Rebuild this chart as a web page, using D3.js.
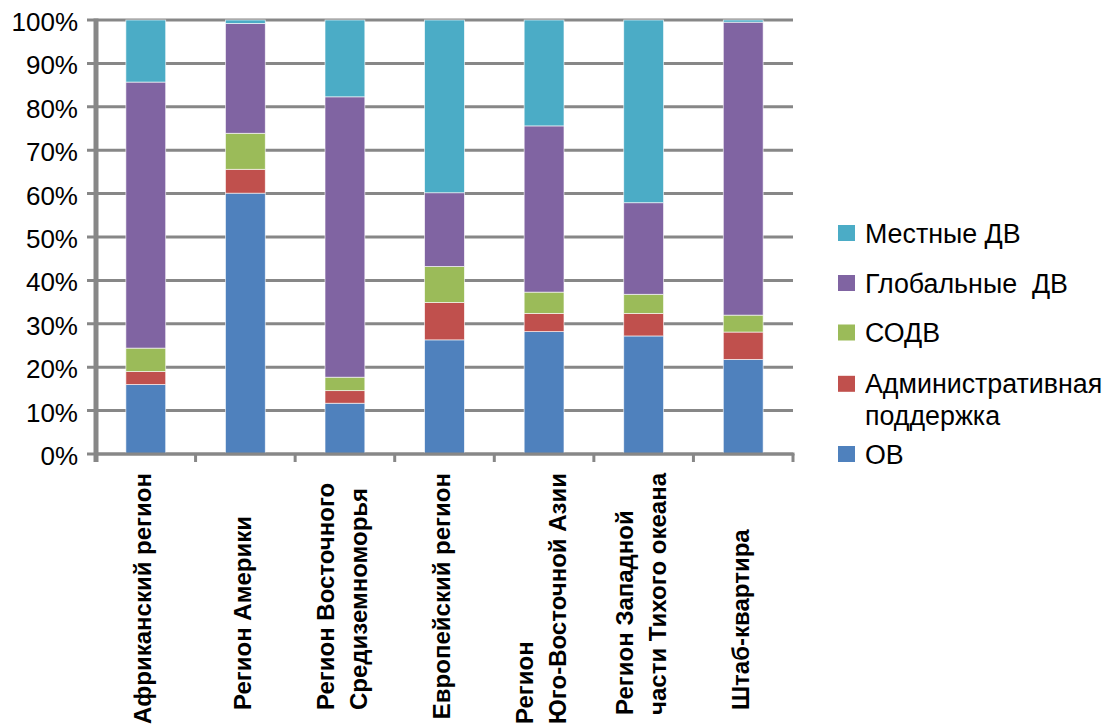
<!DOCTYPE html>
<html>
<head>
<meta charset="utf-8">
<script src="https://cdn.jsdelivr.net/npm/d3@7"></script>
<style>
  html, body { margin: 0; padding: 0; background: #fff; }
  svg { display: block; }
  text { font-family: "Liberation Sans", Arial, sans-serif; fill: #000; white-space: pre; }
</style>
</head>
<body>
<svg id="chart" width="1112" height="724"></svg>
<script>
// Regions (x axis); "\n" marks a line break in the rotated label
const categories = [
  "Африканский регион",
  "Регион Америки",
  "Регион Восточного\nСредиземноморья",
  "Европейский регион",
  "Регион\nЮго-Восточной Азии",
  "Регион Западной\nчасти Тихого океана",
  "Штаб-квартира"
];

// Share of each funding type per region, % (bottom to top of each bar)
const ov        = [16.0, 60.1, 11.7, 26.3, 28.2, 27.2, 21.8];
const adminSupp = [ 3.0,  5.5,  2.9,  8.6,  4.2,  5.2,  6.3];
const sodv      = [ 5.4,  8.3,  3.1,  8.3,  4.9,  4.4,  3.9];
const globalDv  = [61.3, 25.3, 64.6, 17.0, 38.3, 21.1, 67.5];
const localDv   = [14.3,  0.8, 17.7, 39.8, 24.4, 42.1,  0.5];

const seriesNames  = ["ОВ", "Административная\nподдержка", "СОДВ", "Глобальные  ДВ", "Местные ДВ"];
const seriesColors = ["#4F81BD", "#C0504D", "#9BBB59", "#8064A2", "#4BACC6"];
const yTicks = [0, 0.1, 0.2, 0.3, 0.4, 0.5, 0.6, 0.7, 0.8, 0.9, 1.0];

const seriesValues = [ov, adminSupp, sodv, globalDv, localDv];
const keys = seriesNames.map((d, i) => "s" + i);
const rows = categories.map((c, j) => {
  const r = { cat: c };
  keys.forEach((k, i) => { r[k] = seriesValues[i][j]; });
  return r;
});

const svg = d3.select("#chart");
const plotLeft = 96, plotRight = 793, plotTop = 20, plotBottom = 454;

const x = d3.scaleBand().domain(categories).range([plotLeft, plotRight])
  .paddingInner(0.6).paddingOuter(0.3);
const y = d3.scaleLinear().domain([0, 1]).range([plotBottom, plotTop]);

const stacked = d3.stack().keys(keys).offset(d3.stackOffsetExpand)(rows);

const grid = "#878787";

// horizontal gridlines with short ticks left of the axis
svg.append("g").selectAll("line").data(yTicks).join("line")
  .attr("x1", plotLeft - 9).attr("x2", plotRight)
  .attr("y1", d => y(d)).attr("y2", d => y(d))
  .attr("stroke", grid).attr("stroke-width", 3);

// stacked bars
svg.append("g").selectAll("g").data(stacked).join("g")
  .attr("fill", (d, i) => seriesColors[i])
  .selectAll("rect").data(d => d).join("rect")
  .attr("x", d => x(d.data.cat))
  .attr("width", x.bandwidth())
  .attr("y", d => y(d[1]))
  .attr("height", d => Math.max(0, y(d[0]) - y(d[1])))
  .attr("stroke", "rgba(255,255,255,0.75)")
  .attr("stroke-width", 0.8);

// y axis line
svg.append("line")
  .attr("x1", plotLeft).attr("x2", plotLeft)
  .attr("y1", plotTop - 1.5).attr("y2", plotBottom + 8)
  .attr("stroke", grid).attr("stroke-width", 5);

// x axis line and category separators
svg.append("line")
  .attr("x1", plotLeft).attr("x2", plotRight + 1.5)
  .attr("y1", plotBottom).attr("y2", plotBottom)
  .attr("stroke", grid).attr("stroke-width", 3);
const step = x.step();
const bounds = d3.range(categories.length + 1).map(i => x(categories[0]) - x.paddingOuter() * step + i * step);
svg.append("g").selectAll("line").data(bounds).join("line")
  .attr("x1", d => d).attr("x2", d => d)
  .attr("y1", plotBottom).attr("y2", plotBottom + 8)
  .attr("stroke", grid).attr("stroke-width", 3);

// y tick labels
svg.append("g").selectAll("text").data(yTicks).join("text")
  .attr("x", 78).attr("y", d => y(d) + 11)
  .attr("text-anchor", "end")
  .style("font-size", "26px")
  .text(d3.format(".0%"));

// rotated category labels, lines start-aligned and stacked left to right
const labelG = svg.append("g");
const lineGap = 33;
categories.forEach(cat => {
  const lines = cat.split("\n");
  const cx = x(cat) + x.bandwidth() / 2 - 3;
  const g = labelG.append("g");
  const texts = lines.map(l => g.append("text")
    .style("font-size", "24px").style("font-weight", "bold").text(l));
  const maxLen = d3.max(texts, t => t.node().getComputedTextLength());
  const startY = Math.max(710, 473 + maxLen);
  const x0 = cx - (lines.length - 1) * lineGap / 2;
  texts.forEach((t, i) => {
    t.attr("transform", `translate(${x0 + i * lineGap + 8.5},${startY}) rotate(-90)`);
  });
});

// legend (top entry = top segment)
const legendBase = [242.5, 292.5, 342, 393.3, 463.5];
const legendOrder = [4, 3, 2, 1, 0];
const legend = svg.append("g");
legendOrder.forEach((si, k) => {
  const by = legendBase[k];
  legend.append("rect")
    .attr("x", 838).attr("y", by - 17.5)
    .attr("width", 17).attr("height", 16)
    .attr("fill", seriesColors[si]);
  const t = legend.append("text")
    .attr("x", 865).attr("y", by)
    .style("font-size", "26.8px");
  seriesNames[si].split("\n").forEach((l, i) => {
    t.append("tspan").attr("x", 865).attr("dy", i === 0 ? 0 : 32).text(l);
  });
});
</script>
</body>
</html>
